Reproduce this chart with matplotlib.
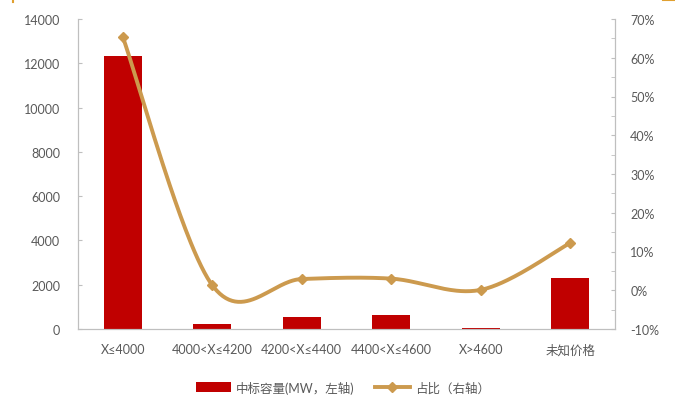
import numpy as np
import matplotlib
matplotlib.use("Agg")
import matplotlib.pyplot as plt
from matplotlib.lines import Line2D
from matplotlib.patches import Patch
import matplotlib.ticker as mticker

plt.rcParams['font.family'] = ['Lato', 'Noto Sans CJK SC', 'DejaVu Sans']

categories = ["X≤4000", "4000<X≤4200", "4200<X≤4400", "4400<X≤4600", "X>4600", "未知价格"]
capacity_mw = [12330, 230, 560, 620, 60, 2290]
share_pct = [65.4, 1.3, 2.9, 3.0, 0.1, 12.2]

bar_color = "#C00000"
line_color = "#CC9A4E"
text_color = "#595959"
spine_color = "#BFBFBF"

fig = plt.figure(figsize=(6.75, 4.14), dpi=100)
ax = fig.add_axes([78/675, 1-330/414, (615-78)/675, 310/414])
ax2 = ax.twinx()

x = np.arange(len(categories))
ax.bar(x, capacity_mw, width=0.42, color=bar_color, zorder=2)
ax.set_xlim(-0.5, len(categories) - 0.5)
ax.set_ylim(0, 14000)
ax.yaxis.set_major_locator(mticker.MultipleLocator(2000))
ax.set_xticks(x)
ax.set_xticklabels(categories)

# Smoothed share curve (cardinal spline through the points)
pts = np.column_stack([x.astype(float), np.array(share_pct, dtype=float)])
ext = np.vstack([pts[0], pts, pts[-1]])
curve = []
for i in range(len(pts) - 1):
    p0, p1, p2, p3 = ext[i], ext[i+1], ext[i+2], ext[i+3]
    c1 = p1 + (p2 - p0) / 6.0
    c2 = p2 - (p3 - p1) / 6.0
    t = np.linspace(0, 1, 60)[:, None]
    seg = (1-t)**3 * p1 + 3*(1-t)**2*t*c1 + 3*(1-t)*t**2*c2 + t**3*p2
    curve.append(seg if i == 0 else seg[1:])
curve = np.vstack(curve)
ax2.plot(curve[:, 0], curve[:, 1], color=line_color, lw=2.8, zorder=3,
         solid_capstyle='round')
ax2.plot(x, share_pct, linestyle='none', marker='D', markersize=5,
         color=line_color, zorder=4)
ax2.set_ylim(-10, 70)
ax2.yaxis.set_major_locator(mticker.MultipleLocator(10))
ax2.yaxis.set_minor_locator(mticker.MultipleLocator(5))
ax2.yaxis.set_major_formatter(mticker.FuncFormatter(lambda v, p: f"{v:.0f}%"))

for a in (ax, ax2):
    a.spines['top'].set_visible(False)
    for s in ('left', 'right', 'bottom'):
        a.spines[s].set_color(spine_color)
        a.spines[s].set_linewidth(0.8)

ax.tick_params(axis='y', direction='in', length=3, color=spine_color,
               labelsize=9, labelcolor=text_color, pad=13)
ax.tick_params(axis='x', length=0, labelsize=9, labelcolor=text_color, pad=10)
ax2.tick_params(axis='y', which='both', direction='in', length=3,
                color=spine_color, labelsize=9, labelcolor=text_color, pad=11)
ax2.tick_params(axis='y', which='minor', labelright=False)

ax.set_zorder(ax2.get_zorder() - 1)
ax.patch.set_visible(False)

handles = [
    Patch(facecolor=bar_color, edgecolor='none'),
    Line2D([0], [0], color=line_color, lw=2.8, marker='D', markersize=5),
]
labels = ["中标容量(MW，左轴)", "占比（右轴）"]
fig.legend(handles, labels, loc='center', bbox_to_anchor=(0.508, 1-388/414),
           ncol=2, frameon=False, fontsize=9, labelcolor=text_color,
           handlelength=2.8, handleheight=0.9, columnspacing=1.6,
           handletextpad=0.4)

# Small corner marks of the frame
fig.add_artist(Line2D([13/675, 13/675], [1, 1-3/414], color="#E0A030", lw=1.5))
fig.add_artist(Line2D([663/675, 675/675], [1-1/414, 1-1/414], color="#E0A030", lw=1.5))

fig.savefig("out.png", dpi=100)
